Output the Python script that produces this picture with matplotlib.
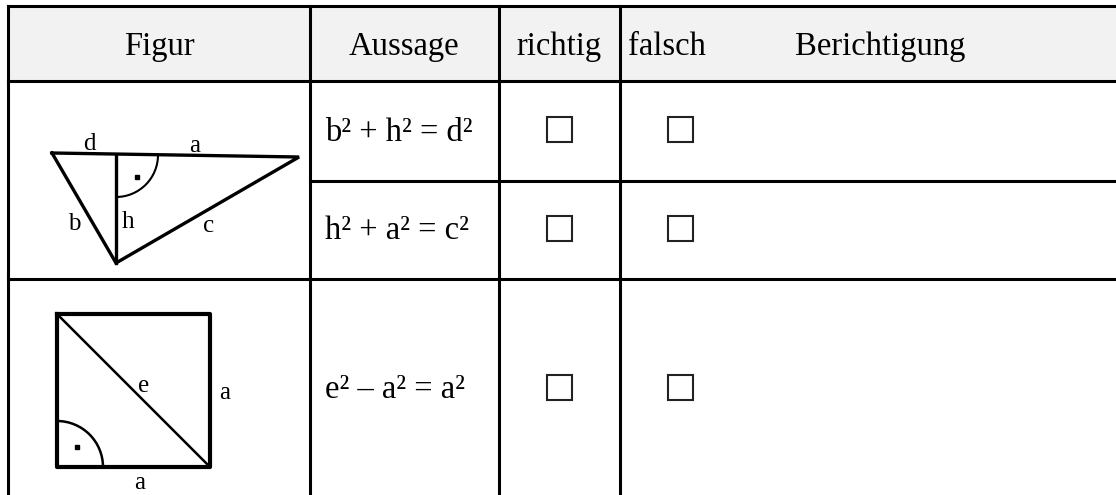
import matplotlib
matplotlib.use('Agg')
import matplotlib.pyplot as plt
from matplotlib.patches import Rectangle, Arc

plt.rcParams['font.family'] = ['Liberation Serif', 'DejaVu Serif']

# table layout (pixel coords, y downwards)
COL_X      = [8, 310, 499, 620]
ROW_Y      = [6, 81, 181, 279]
HEADERS    = ['Figur', 'Aussage', 'richtig', 'falsch', 'Berichtigung']
HEADER_X   = [159, 404, 559, 628, 880]
HEADER_HA  = ['center', 'center', 'center', 'left', 'center']
STATEMENTS = ['b² + h² = d²', 'h² + a² = c²', 'e² – a² = a²']
STMT_Y     = [141, 239, 398]   # baselines
BOX_Y      = [129, 228, 387]
BOX_X      = [559, 680]

# figure 1: triangle with altitude
TRI_X = [52, 299, 116, 52]
TRI_Y = [153, 157, 263, 153]
ALT_X = [116, 116]
ALT_Y = [155, 263]
TRI_LABELS = [('d', 89, 150), ('a', 195, 152), ('b', 74, 230),
              ('h', 128, 228), ('c', 209, 232)]

# figure 2: square with diagonal
SQ_X = [57, 210, 210, 57, 57]
SQ_Y = [314, 314, 467, 467, 314]
DIAG_X = [57, 210]
DIAG_Y = [314, 467]
SQ_LABELS = [('e', 144, 392), ('a', 225, 399), ('a', 140, 489)]

W, H = 1116, 495
fig = plt.figure(figsize=(W / 100, H / 100), dpi=100)
ax = fig.add_axes([0, 0, 1, 1])
ax.set_xlim(0, W)
ax.set_ylim(H, 0)
ax.axis('off')

lw = 2.2
# header background
ax.add_patch(Rectangle((COL_X[0], ROW_Y[0]), W - COL_X[0], ROW_Y[1] - ROW_Y[0],
                       facecolor='#f2f2f2', edgecolor='none', zorder=0))
# grid lines
ax.plot([COL_X[0], W], [ROW_Y[0]] * 2, color='black', lw=lw)
ax.plot([COL_X[0], W], [ROW_Y[1]] * 2, color='black', lw=lw)
ax.plot([COL_X[1], W], [ROW_Y[2]] * 2, color='black', lw=lw)
ax.plot([COL_X[0], W], [ROW_Y[3]] * 2, color='black', lw=lw)
for x in COL_X:
    ax.plot([x, x], [ROW_Y[0], H], color='black', lw=lw)

fs = 23.5
for txt, x, ha in zip(HEADERS, HEADER_X, HEADER_HA):
    ax.text(x, 55, txt, fontsize=fs, ha=ha, va='baseline')

for txt, y, by in zip(STATEMENTS, STMT_Y, BOX_Y):
    ax.text(325, y, txt, fontsize=fs, ha='left', va='baseline')
    for bx in BOX_X:
        ax.plot(bx, by, marker='s', ms=18, mfc='none', mec='#222222', mew=1.5)

# triangle
ax.plot(TRI_X, TRI_Y, color='black', lw=2.4, solid_joinstyle='miter')
ax.plot(ALT_X, ALT_Y, color='black', lw=2.4)
ax.add_patch(Arc((116, 155), 84, 84, theta1=0, theta2=90, color='black', lw=1.5))
ax.plot(137, 177, marker='s', ms=2.5, color='black')
for t, x, y in TRI_LABELS:
    ax.text(x, y, t, fontsize=18, ha='center', va='baseline')

# square
ax.plot(SQ_X, SQ_Y, color='black', lw=3.0, solid_joinstyle='round')
ax.plot(DIAG_X, DIAG_Y, color='black', lw=1.8)
ax.add_patch(Arc((57, 467), 92, 92, theta1=270, theta2=360, color='black', lw=1.8))
ax.plot(77, 447, marker='s', ms=2.5, color='black')
for t, x, y in SQ_LABELS:
    ax.text(x, y, t, fontsize=18, ha='center', va='baseline')

fig.savefig('out.png', dpi=100)
